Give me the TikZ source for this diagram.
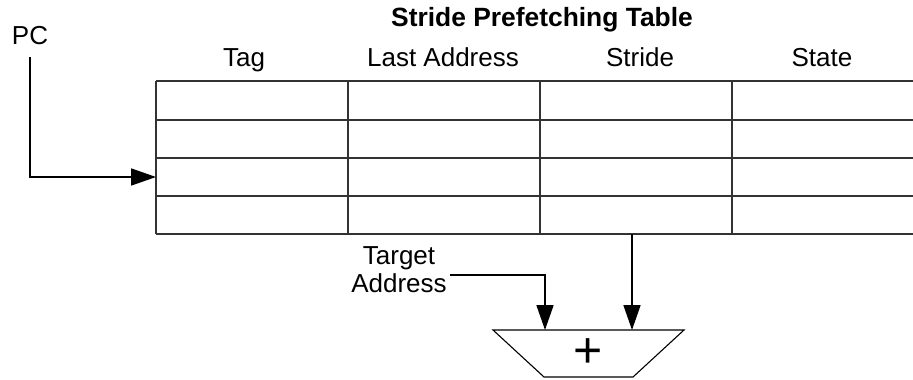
\documentclass[tikz,border=0pt]{standalone}
\usepackage{fontspec}
\setmainfont{Liberation Sans}
\usetikzlibrary{arrows.meta}
\begin{document}
\begin{tikzpicture}[x=1pt,y=-1pt,
  lbl/.style={font=\fontsize{26}{28}\selectfont, inner sep=0pt},
  ttl/.style={font=\fontsize{26.4}{28}\selectfont\bfseries, inner sep=0pt},
  gridline/.style={line width=1.1pt, draw=black!80},
  conn/.style={line width=1.7pt, -{Triangle[length=25pt,width=17pt]}},
  addshape/.style={line width=1.1pt, draw=black},
]
\useasboundingbox (0,0) rectangle (913,380);
% table grid
\foreach \y in {81,120,158,196,234} \draw[gridline] (156,\y) -- (930,\y);
\foreach \x in {156,348,540,732} \draw[gridline] (\x,81) -- (\x,234);
% labels
\node[ttl, anchor=base] (title) at (542,27) {Stride Prefetching Table};
\node[lbl, anchor=base] (htag) at (244,66.5) {Tag};
\node[lbl, anchor=base] (hlast) at (443,66.5) {Last Address};
\node[lbl, anchor=base] (hstride) at (640,66.5) {Stride};
\node[lbl, anchor=base] (hstate) at (822,66.5) {State};
\node[lbl, anchor=base] (pc) at (30,44) {PC};
\node[lbl, align=center] (tgt) at (399,270) {Target\\Address};
% coordinates
\coordinate (row3) at (156,177);
\coordinate (stridebot) at (632,234);
\coordinate (addR) at (632,330);
\coordinate (addL) at (545,330);
% adder
\draw[addshape] (493,330) -- (684,330) -- (633,377) -- (544,377) -- cycle;
\node[font=\fontsize{50}{50}\selectfont, inner sep=0pt] (adder) at (588,353.5) {+};
% connectors
\draw[conn] ([yshift=-13pt]pc.south) |- (row3);
\draw[conn] (stridebot) -- (addR);
\draw[conn] (tgt.east |- 0,275) ++(3pt,0) -| (addL);
\end{tikzpicture}
\end{document}
